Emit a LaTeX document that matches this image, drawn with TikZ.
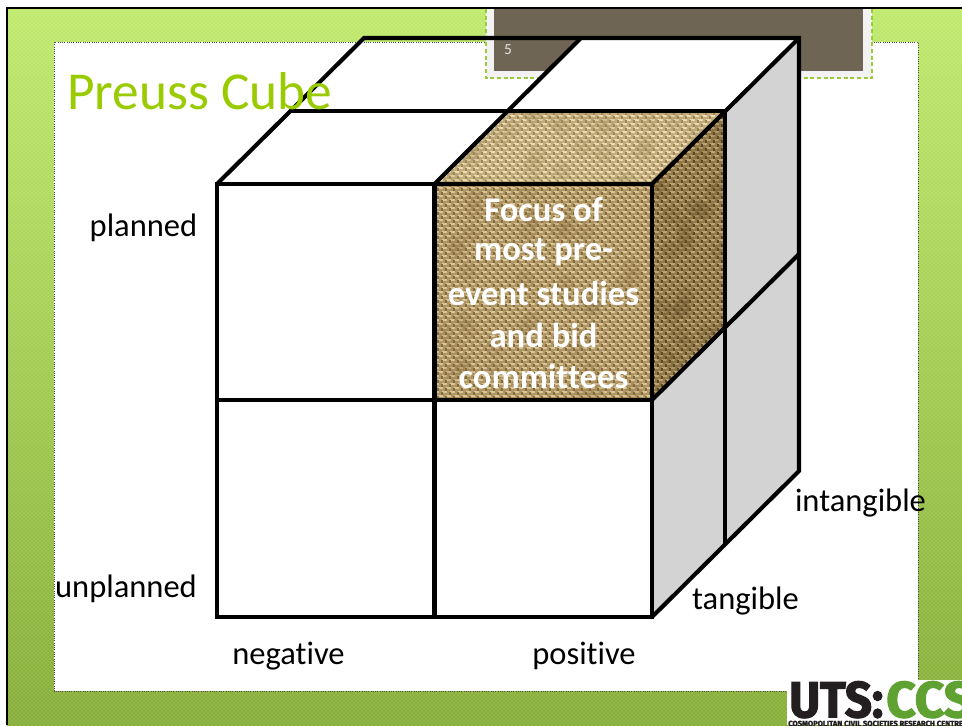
\documentclass[tikz,border=0pt]{standalone}
\usepackage{fontspec}
\setmainfont{Carlito}[Ligatures=NoCommon]
\newfontfamily\logofont[BoldFeatures={FakeBold=2.5}]{Fira Sans}
\usetikzlibrary{patterns}
\definecolor{titlegreen}{HTML}{99CB00}
\definecolor{tabbrown}{HTML}{6F6555}
\definecolor{sidegray}{HTML}{D3D3D3}
\definecolor{tabedge}{HTML}{9BCB3C}
\definecolor{logogreen}{HTML}{5FA232}
\definecolor{logoblack}{HTML}{231F20}
\definecolor{bgtop}{HTML}{BFEA6C}
\definecolor{bgmid}{HTML}{B0DC5E}
\definecolor{bgbot}{HTML}{86AE38}
\definecolor{frontbase}{HTML}{B09664}
\definecolor{frontlight}{HTML}{D8C598}
\definecolor{frontdark}{HTML}{846A3A}
\definecolor{topbase}{HTML}{C4AC7C}
\definecolor{toplight}{HTML}{E9DBB4}
\definecolor{topdark}{HTML}{9C8654}
\definecolor{sidebase}{HTML}{937A48}
\definecolor{sidelight}{HTML}{BCA474}
\definecolor{sidedark}{HTML}{5E4A22}
\pgfmathsetseed{7}
\newcommand{\burlap}[7]{% x0,y0,x1,y1 box, base, light, dark
  \fill[#5] (#1,#2) rectangle (#3,#4);
  \foreach \yy [evaluate=\yy as \ys using {mod(\yy,2)*3}] in {0,...,75}
    \draw[#6,line width=1.3pt,dash pattern=on 3.6pt off 2.4pt,dash phase=\ys pt]
      (#1,{#2+\yy*4}) -- (#3,{#2+\yy*4});
  \foreach \xx [evaluate=\xx as \xs using {mod(\xx,2)*3}] in {0,...,75}
    \draw[#7,line width=.8pt,dash pattern=on 2pt off 4pt,dash phase=\xs pt]
      ({#1+\xx*4},#2) -- ({#1+\xx*4},#4);
  \foreach \k in {1,...,40}
    \fill[#7,opacity=.18] ({#1+rnd*(#3-#1)},{#2+rnd*(#4-#2)}) circle[radius=9];
}
\tikzset{
  cubeline/.style={draw=black,line width=3.1pt,line join=miter},
  lbl/.style={font=\fontsize{24.4}{24.4}\selectfont,text=black,inner sep=0pt,anchor=base},
  focus/.style={font=\fontsize{26}{31}\selectfont\bfseries,text=white,inner sep=0pt,anchor=center}
}
\begin{document}
\begin{tikzpicture}[x=0.75pt,y=-0.75pt]
\useasboundingbox (0,0) rectangle (962,725);
% slide background
\fill[white] (0,0) rectangle (962,725);
\shade[top color=bgtop,middle color=bgmid,bottom color=bgbot] (7,8) rectangle (962,725);
\fill[pattern=crosshatch dots,pattern color=white,opacity=.4] (7,8) rectangle (962,725);
\draw[black,line width=2.2pt] (7,725) -- (7,8) -- (962,8);
% content panel
\draw[fill=white,draw=black!70,line width=.7pt,densely dotted] (54,42) rectangle (918,691);
% number tab
\fill[black!5] (486,9) rectangle (872,78);
\draw[tabedge,line width=.8pt,densely dashed] (486,9) -- (486,78) -- (872,78) -- (872,9);
\fill[tabbrown] (494,9) rectangle (863,71);
\draw[black,line width=2.2pt] (486,8) -- (872,8);
\node[text=white!90!black,font=\fontsize{11.5}{11.5}\selectfont,inner sep=0pt] (pagenum) at (508,50) {5};
% cube faces (the back left cell of the top is see-through)
\fill[white] (434.5,184) -- (581,38) -- (799,38) -- (652,184) -- cycle;
\fill[white] (217,184) rectangle (652,617);
\fill[sidegray] (652,184) -- (799,38) -- (799,471) -- (652,617) -- cycle;
% textured sub-cube
\begin{scope}
  \clip (434,184) -- (507,111) -- (725,111) -- (652,184) -- cycle;
  \burlap{430}{108}{730}{188}{topbase}{toplight}{topdark}
\end{scope}
\begin{scope}
  \clip (652,184) -- (725,111) -- (725,327) -- (652,400) -- cycle;
  \burlap{650}{108}{728}{402}{sidebase}{sidelight}{sidedark}
\end{scope}
\begin{scope}
  \clip (434,184) rectangle (652,400);
  \burlap{434}{184}{652}{400}{frontbase}{frontlight}{frontdark}
\end{scope}
% cube edges
\draw[cubeline] (217,184) rectangle (652,617);
\draw[cubeline] (434.5,184) -- (434.5,617);
\draw[cubeline] (217,400) -- (652,400);
\draw[cubeline] (217,184) -- (364,38) -- (799,38) -- (799,471) -- (652,617);
\draw[cubeline] (652,184) -- (799,38);
\draw[cubeline] (434.5,184) -- (581,38);
\draw[cubeline] (290,111) -- (725,111) -- (725,544);
\draw[cubeline] (652,400) -- (799,254);
% labels
\node[font=\fontsize{40}{40}\selectfont,text=titlegreen,inner sep=0pt,anchor=base west] (title) at (67,109) {Preuss Cube};
\node[lbl] (planned) at (143.5,236) {planned};
\node[lbl] (unplanned) at (126,597) {unplanned};
\node[lbl] (negative) at (288.5,664) {negative};
\node[lbl] (positive) at (584,664) {positive};
\node[lbl] (tangible) at (745.5,609) {tangible};
\node[lbl] (intangible) at (860.5,511) {intangible};
\node[focus] (f1) at (543.5,210) {Focus of};
\node[focus] (f2) at (543.5,252) {most pre-};
\node[focus] (f3) at (543.5,293) {event studies};
\node[focus] (f4) at (543.5,335) {and bid};
\node[focus] (f5) at (543.5,376) {committees};
% logo
\begin{scope}
  \clip (787,680) rectangle (962,725);
  \fill[white] (787,680) rectangle (962,725);
  \node[inner sep=0pt,anchor=north west,text=logoblack,font=\logofont\bfseries] (uts) at (789,681)
    {\resizebox{70.5pt}{27pt}{UTS:}};
  \node[inner sep=0pt,anchor=north west,text=logogreen,font=\logofont\bfseries] (ccs) at (886,681)
    {\resizebox{65pt}{27pt}{CCS}};
  \node[inner sep=0pt,anchor=north west,text=logoblack,font=\logofont\bfseries] (sub) at (788,720.5)
    {\resizebox{131pt}{!}{COSMOPOLITAN CIVIL SOCIETIES RESEARCH CENTRE}};
\end{scope}
\end{tikzpicture}
\end{document}
